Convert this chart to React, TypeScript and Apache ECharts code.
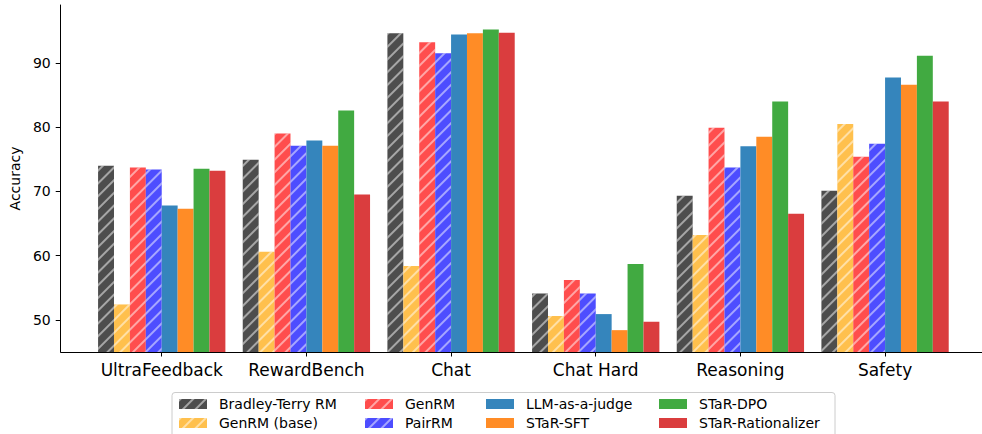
import React, { useEffect, useRef } from "react";
import * as echarts from "echarts";

const categories = ["UltraFeedback", "RewardBench", "Chat", "Chat Hard", "Reasoning", "Safety"];
const seriesNames = [
  "Bradley-Terry RM",
  "GenRM (base)",
  "GenRM",
  "PairRM",
  "LLM-as-a-judge",
  "STaR-SFT",
  "STaR-DPO",
  "STaR-Rationalizer",
];
const bradleyTerry = [74.0, 74.9, 94.6, 54.1, 69.3, 70.1];
const genrmBase = [52.4, 60.6, 58.4, 50.6, 63.2, 80.5];
const genrm = [73.7, 79.0, 93.2, 56.2, 79.9, 75.4];
const pairrm = [73.4, 77.1, 91.5, 54.1, 73.7, 77.4];
const llmJudge = [67.8, 77.9, 94.4, 50.9, 77.0, 87.7];
const starSft = [67.3, 77.1, 94.6, 48.4, 78.5, 86.6];
const starDpo = [73.5, 82.6, 95.2, 58.7, 84.0, 91.1];
const starRationalizer = [73.2, 69.5, 94.7, 49.7, 66.5, 84.0];
const yTicks = [50, 60, 70, 80, 90];

const seriesValues = [bradleyTerry, genrmBase, genrm, pairrm, llmJudge, starSft, starDpo, starRationalizer];
const fillColors = ["#4d4d4d", "#ffc04d", "#ff4d4d", "#4d4dff", "#3585bc", "#ff8c26", "#41aa41", "#da3d3e"];
const hatched = [true, true, true, true, false, false, false, false];

const FONT = "DejaVu Sans";

export default function App() {
  const ref = useRef<HTMLDivElement>(null);
  useEffect(() => {
    document.body.style.margin = "0";
    if (!ref.current) return;
    const chart = echarts.init(ref.current, undefined, { renderer: "svg" });
    const hatch = {
      symbol: "rect",
      symbolSize: 1,
      symbolKeepAspect: false,
      dashArrayX: [1, 0],
      dashArrayY: [1.1, 6.9],
      rotation: -Math.PI / 4,
      color: "rgba(255,255,255,0.5)",
    };
    const series = seriesNames.map((name, i) => ({
      name,
      type: "bar",
      xAxisIndex: 1,
      yAxisIndex: 1,
      data: seriesValues[i],
      barGap: "0%",
      barCategoryGap: "12%",
      itemStyle: {
        color: fillColors[i],
        borderWidth: 0,
        decal: hatched[i] ? hatch : undefined,
      },
    }));
    const legendCols = [
      { left: 179, names: [seriesNames[0], seriesNames[1]] },
      { left: 365, names: [seriesNames[2], seriesNames[3]] },
      { left: 486, names: [seriesNames[4], seriesNames[5]] },
      { left: 659, names: [seriesNames[6], seriesNames[7]] },
    ];
    chart.setOption({
      animation: false,
      textStyle: { fontFamily: FONT },
      grid: [
        { left: 55.5, right: 0, top: 5, bottom: 82 },
        { left: 89.4, right: 24.6, top: 5, bottom: 82 },
      ],
      xAxis: [
        {
          gridIndex: 0,
          type: "value",
          min: 0,
          max: 1,
          axisLine: { show: true, lineStyle: { color: "#000", width: 1 } },
          axisTick: { show: false },
          axisLabel: { show: false },
          splitLine: { show: false },
        },
        {
          gridIndex: 1,
          type: "category",
          data: categories,
          axisLine: { show: false },
          axisTick: { show: true, alignWithLabel: true, interval: 0, length: 4.5, lineStyle: { color: "#000" } },
          axisLabel: { color: "#000", fontSize: 17, fontFamily: FONT, margin: 9, interval: 0, hideOverlap: false },
        },
      ],
      yAxis: [
        {
          gridIndex: 0,
          type: "value",
          min: 45,
          max: 99,
          name: "Accuracy",
          nameLocation: "middle",
          nameGap: 38,
          nameTextStyle: { color: "#000", fontSize: 14, fontFamily: FONT },
          axisLine: { show: true, lineStyle: { color: "#000", width: 1 } },
          axisTick: { show: true, length: 5, customValues: yTicks, lineStyle: { color: "#000" } },
          axisLabel: { color: "#000", fontSize: 14, fontFamily: FONT, customValues: yTicks, margin: 10 },
          splitLine: { show: false },
        },
        {
          gridIndex: 1,
          type: "value",
          min: 45,
          max: 99,
          show: false,
          splitLine: { show: false },
        },
      ],
      legend: legendCols.map((c) => ({
        orient: "vertical",
        left: c.left,
        top: 397,
        data: c.names,
        icon: "rect",
        itemWidth: 28,
        itemHeight: 10,
        itemGap: 5,
        padding: 0,
        itemStyle: { borderWidth: 0 },
        textStyle: { color: "#000", fontSize: 14, fontFamily: FONT, padding: [0, 0, 0, 7] },
      })),
      graphic: [
        {
          type: "rect",
          left: 171.5,
          top: 392,
          z: -1,
          shape: { width: 663, height: 50, r: 3 },
          style: { fill: "#fff", stroke: "#cccccc", lineWidth: 1 },
        },
      ],
      series,
    });
    return () => chart.dispose();
  }, []);
  return <div ref={ref} style={{ width: 982, height: 434 }} />;
}
